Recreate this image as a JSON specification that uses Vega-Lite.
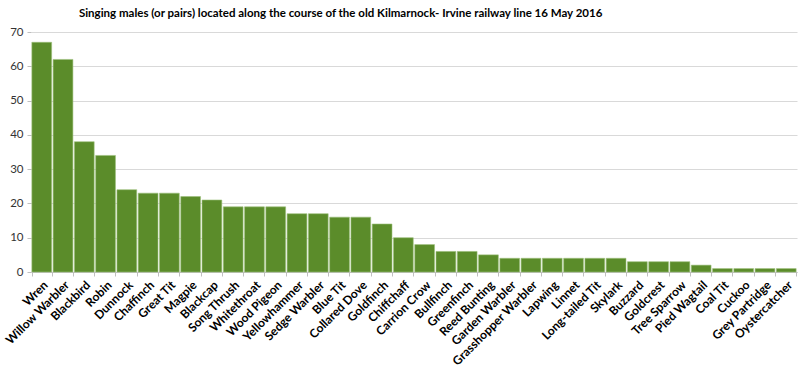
{
  "$schema": "https://vega.github.io/schema/vega-lite/v6.json",
  "width": 800,
  "height": 371,
  "autosize": {"type": "fit", "contains": "padding"},
  "padding": {"left": 4, "right": 3, "top": 7, "bottom": 3},
  "background": "white",
  "title": {
    "text": "Singing males (or pairs) located along the course of the old Kilmarnock- Irvine railway line 16 May 2016",
    "font": "Lato",
    "fontSize": 11.5,
    "fontWeight": "bold",
    "color": "#000000",
    "anchor": "start",
    "offset": 7,
    "dx": 76
  },
  "config": {
    "view": {"stroke": null},
    "axis": {"labelFont": "Lato", "labelColor": "#333333", "domainColor": "#bfbfbf", "tickColor": "#bfbfbf", "gridColor": "#d9d9d9"}
  },
  "data": {
    "values": [
      {"species": "Wren", "count": 67},
      {"species": "Willow Warbler", "count": 62},
      {"species": "Blackbird", "count": 38},
      {"species": "Robin", "count": 34},
      {"species": "Dunnock", "count": 24},
      {"species": "Chaffinch", "count": 23},
      {"species": "Great Tit", "count": 23},
      {"species": "Magpie", "count": 22},
      {"species": "Blackcap", "count": 21},
      {"species": "Song Thrush", "count": 19},
      {"species": "Whitethroat", "count": 19},
      {"species": "Wood Pigeon", "count": 19},
      {"species": "Yellowhammer", "count": 17},
      {"species": "Sedge Warbler", "count": 17},
      {"species": "Blue Tit", "count": 16},
      {"species": "Collared Dove", "count": 16},
      {"species": "Goldfinch", "count": 14},
      {"species": "Chiffchaff", "count": 10},
      {"species": "Carrion Crow", "count": 8},
      {"species": "Bullfinch", "count": 6},
      {"species": "Greenfinch", "count": 6},
      {"species": "Reed Bunting", "count": 5},
      {"species": "Garden Warbler", "count": 4},
      {"species": "Grasshopper Warbler", "count": 4},
      {"species": "Lapwing", "count": 4},
      {"species": "Linnet", "count": 4},
      {"species": "Long-tailed Tit", "count": 4},
      {"species": "Skylark", "count": 4},
      {"species": "Buzzard", "count": 3},
      {"species": "Goldcrest", "count": 3},
      {"species": "Tree Sparrow", "count": 3},
      {"species": "Pied Wagtail", "count": 2},
      {"species": "Coal Tit", "count": 1},
      {"species": "Cuckoo", "count": 1},
      {"species": "Grey Partridge", "count": 1},
      {"species": "Oystercatcher", "count": 1}
    ]
  },
  "mark": {"type": "bar", "color": "#5b8c2a", "stroke": "#9cc07a", "strokeWidth": 0.6},
  "encoding": {
    "x": {
      "field": "species",
      "type": "nominal",
      "sort": null,
      "title": null,
      "scale": {"paddingInner": 0.07, "paddingOuter": 0.04},
      "axis": {"labelAngle": -45, "labelFontWeight": "bold", "labelFontSize": 12, "labelColor": "#000000", "tickBand": "extent", "tickSize": 4, "labelPadding": 3}
    },
    "y": {
      "field": "count",
      "type": "quantitative",
      "title": null,
      "scale": {"domain": [0, 70]},
      "axis": {"values": [0, 10, 20, 30, 40, 50, 60, 70], "domain": false, "tickSize": 4, "labelFontSize": 11.5, "labelPadding": 4}
    }
  }
}
